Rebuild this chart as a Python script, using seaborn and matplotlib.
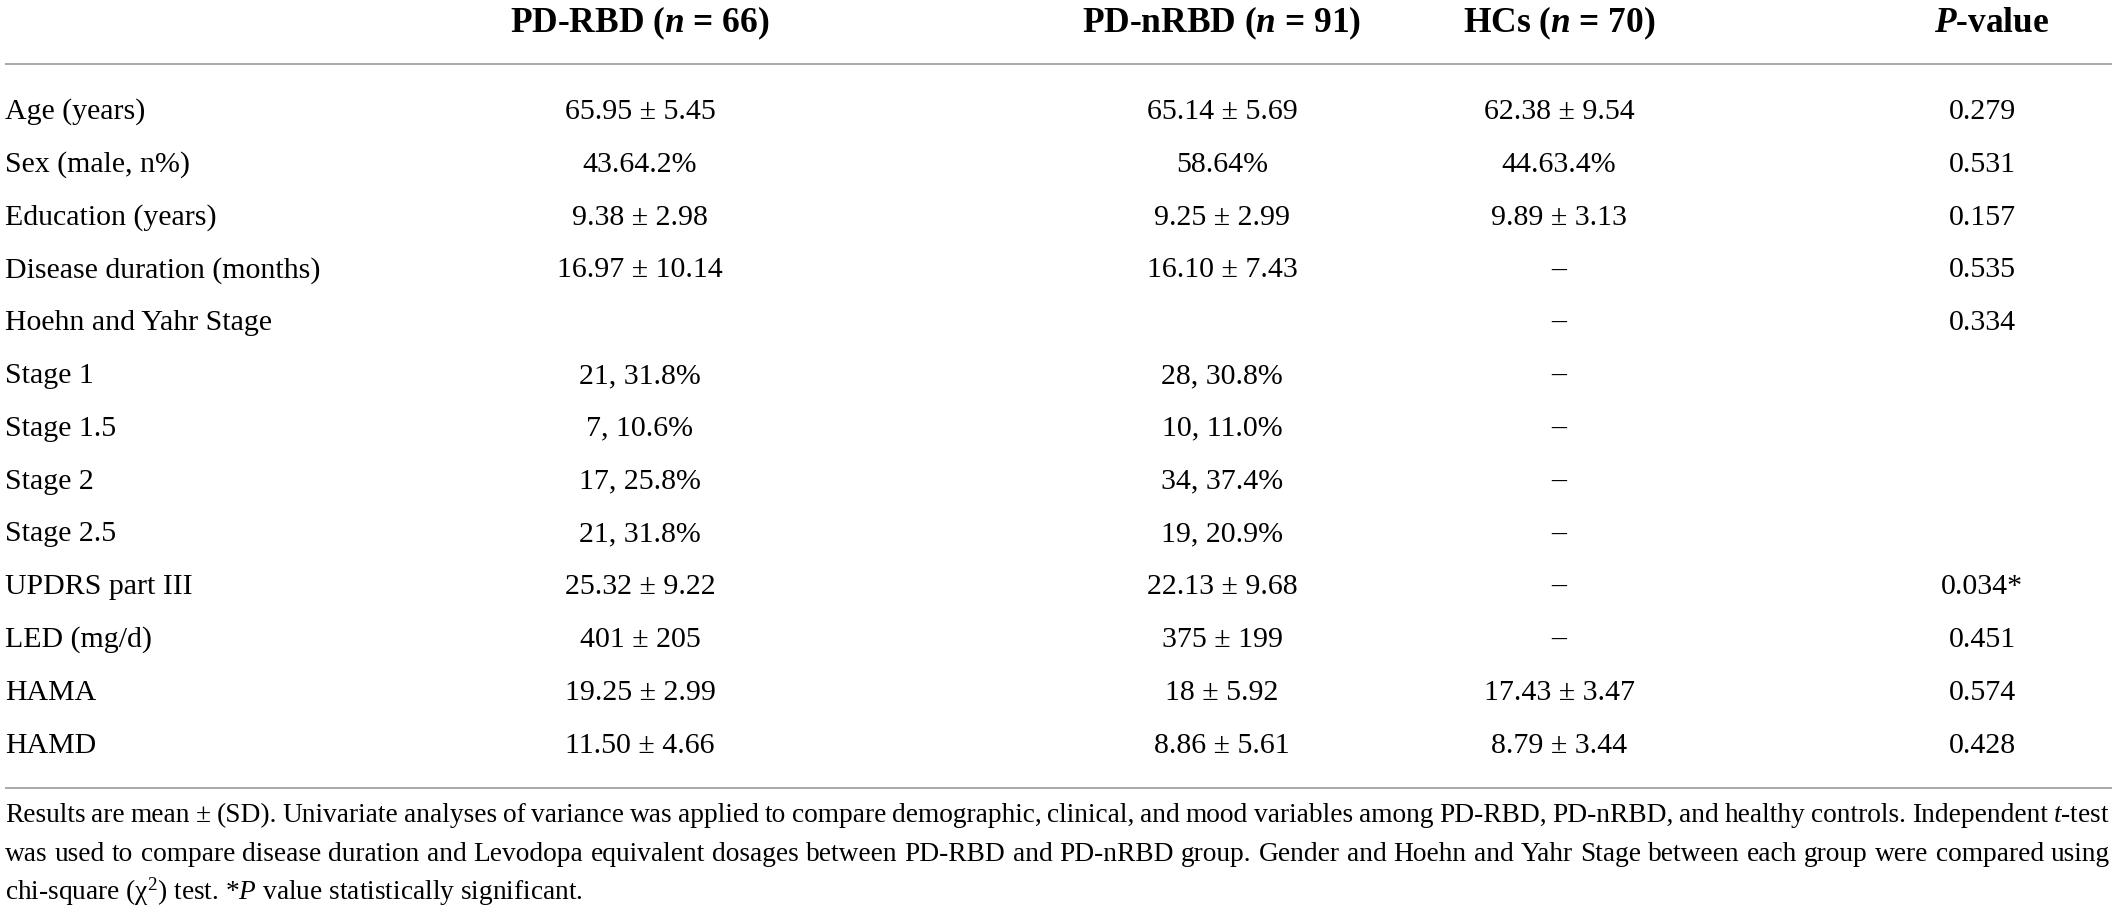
import matplotlib
matplotlib.use('Agg')
import matplotlib.pyplot as plt
import seaborn as sns
import pandas as pd

sns.set_theme(style='white')
plt.rcParams['font.family'] = ['Liberation Serif', 'DejaVu Serif']
plt.rcParams['mathtext.fontset'] = 'custom'
plt.rcParams['mathtext.rm'] = 'Liberation Serif'
plt.rcParams['mathtext.it'] = 'Liberation Serif:italic'
plt.rcParams['mathtext.bf'] = 'Liberation Serif:bold'
plt.rcParams['mathtext.bfit'] = 'Liberation Serif:italic:bold'

# ---- table content ----
headers = [r'PD-RBD ($\mathbfit{n}$ = 66)', r'PD-nRBD ($\mathbfit{n}$ = 91)',
           r'HCs ($\mathbfit{n}$ = 70)', r'$\mathbfit{P}$-value']

row_labels = ['Age (years)', 'Sex (male, n%)', 'Education (years)',
              'Disease duration (months)', 'Hoehn and Yahr Stage', 'Stage 1',
              'Stage 1.5', 'Stage 2', 'Stage 2.5', 'UPDRS part III', 'LED (mg/d)',
              'HAMA', 'HAMD']
pd_rbd = ['65.95 ± 5.45', '43.64.2%', '9.38 ± 2.98', '16.97 ± 10.14', '',
          '21, 31.8%', '7, 10.6%', '17, 25.8%', '21, 31.8%', '25.32 ± 9.22',
          '401 ± 205', '19.25 ± 2.99', '11.50 ± 4.66']
pd_nrbd = ['65.14 ± 5.69', '58.64%', '9.25 ± 2.99', '16.10 ± 7.43', '',
           '28, 30.8%', '10, 11.0%', '34, 37.4%', '19, 20.9%', '22.13 ± 9.68',
           '375 ± 199', '18 ± 5.92', '8.86 ± 5.61']
hcs = ['62.38 ± 9.54', '44.63.4%', '9.89 ± 3.13', '–', '–', '–', '–', '–', '–',
       '–', '–', '17.43 ± 3.47', '8.79 ± 3.44']
p_values = ['0.279', '0.531', '0.157', '0.535', '0.334', '', '', '', '',
            '0.034*', '0.451', '0.574', '0.428']

footnote = [
    r'Results are mean ± (SD). Univariate analyses of variance was applied to compare '
    r'demographic, clinical, and mood variables among PD-RBD, PD-nRBD, and healthy '
    r'controls. Independent $\mathit{t}$-test',
    r'was used to compare disease duration and Levodopa equivalent dosages between '
    r'PD-RBD and PD-nRBD group. Gender and Hoehn and Yahr Stage between each group '
    r'were compared using',
    r'chi-square (χ$^{2}$) test. *$\mathit{P}$ value statistically significant.',
]

df = pd.DataFrame({'label': row_labels, 'PD-RBD': pd_rbd, 'PD-nRBD': pd_nrbd,
                   'HCs': hcs, 'P': p_values})

# ---- layout (pixels) ----
W, H = 2117, 916
col_x = [640, 1222, 1559, 1982]
head_x = [640, 1222, 1559, 1992]
head_y = 32
row_y0, row_step = 119, 52.8
rule_top, rule_bot = 64, 788
foot_y = [822, 861, 900]
x_left, x_right = 5, 2110
BODY, HEAD = 21.5, 25.5

fig = plt.figure(figsize=(W / 100, H / 100), dpi=100)
ax = fig.add_axes([0, 0, 1, 1])
ax.set_xlim(0, W)
ax.set_ylim(H, 0)
ax.axis('off')
renderer = fig.canvas.get_renderer()

for x, h in zip(head_x, headers):
    ax.text(x, head_y, h, fontsize=HEAD, fontweight='bold', ha='center',
            va='baseline', color='black')

for y in (rule_top, rule_bot):
    ax.plot([x_left, 2112], [y, y], color='#a3a3a3', lw=1.3, solid_capstyle='butt')

for i, r in df.iterrows():
    y = row_y0 + i * row_step
    ax.text(x_left, y, r['label'], fontsize=BODY, ha='left', va='baseline', color='black')
    for x, c in zip(col_x, ['PD-RBD', 'PD-nRBD', 'HCs', 'P']):
        if r[c]:
            ax.text(x, y, r[c], fontsize=BODY, ha='center', va='baseline', color='black')


def justify(line, y, size):
    words = line.split(' ')
    arts = [ax.text(0, y, w, fontsize=size, ha='left', va='baseline', color='black')
            for w in words]
    widths = [a.get_window_extent(renderer).width for a in arts]
    gap = (x_right - x_left - sum(widths)) / (len(words) - 1)
    return arts, widths, gap


fsize = 21
while True:
    results = [justify(l, y, fsize) for l, y in zip(footnote[:2], foot_y[:2])]
    if min(g for _, _, g in results) > 5.5 or fsize < 12:
        break
    for arts, _, _ in results:
        for a in arts:
            a.remove()
    fsize -= 0.25

for arts, widths, gap in results:
    x = x_left
    for a, w in zip(arts, widths):
        a.set_x(x)
        x += w + gap

ax.text(x_left, foot_y[2], footnote[2], fontsize=fsize, ha='left', va='baseline',
        color='black')

fig.savefig('out.png', dpi=100, facecolor='white')
